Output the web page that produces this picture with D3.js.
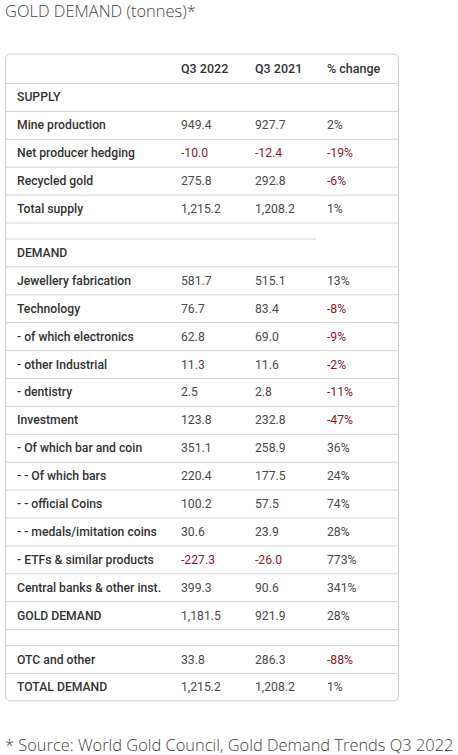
<!DOCTYPE html>
<html>
<head>
<meta charset="utf-8">
<script src="https://cdn.jsdelivr.net/npm/d3@7"></script>
<style>
  html, body { margin: 0; padding: 0; background: #fff; }
  svg { display: block; }
</style>
</head>
<body>
<svg id="chart" width="458" height="755"></svg>
<script>
// ---- data ----
const title = "GOLD DEMAND (tonnes)*";
const footnote = "* Source: World Gold Council, Gold Demand Trends Q3 2022";
const columns = ["", "Q3 2022", "Q3 2021", "% change"];
// row kinds: "section" (heading only), "blank" (spacer), "data"
const rowLabels = [
  "SUPPLY", "Mine production", "Net producer hedging", "Recycled gold", "Total supply",
  "", "DEMAND", "Jewellery fabrication", "Technology", "- of which electronics",
  "- other Industrial", "- dentistry", "Investment", "- Of which bar and coin",
  "- - Of which bars", "- - official Coins", "- - medals/imitation coins",
  "- ETFs & similar products", "Central banks & other inst.", "GOLD DEMAND",
  "", "OTC and other", "TOTAL DEMAND"
];
const rowKinds = [
  "section", "data", "data", "data", "data",
  "blank", "section", "data", "data", "data",
  "data", "data", "data", "data",
  "data", "data", "data",
  "data", "data", "data",
  "blank2", "data", "data"
];
const q3_2022 = [
  null, 949.4, -10.0, 275.8, 1215.2,
  null, null, 581.7, 76.7, 62.8,
  11.3, 2.5, 123.8, 351.1,
  220.4, 100.2, 30.6,
  -227.3, 399.3, 1181.5,
  null, 33.8, 1215.2
];
const q3_2021 = [
  null, 927.7, -12.4, 292.8, 1208.2,
  null, null, 515.1, 83.4, 69.0,
  11.6, 2.8, 232.8, 258.9,
  177.5, 57.5, 23.9,
  -26.0, 90.6, 921.9,
  null, 286.3, 1208.2
];
const pctChange = [
  null, 2, -19, -6, 1,
  null, null, 13, -8, -9,
  -2, -11, -47, 36,
  24, 74, 28,
  773, 341, 28,
  null, -88, 1
];

// ---- layout ----
const svg = d3.select("#chart");
const box = { x: 5.5, y: 54, w: 393, r: 5 };
const headerH = 29, rowH = 27.9, blankH = 16;
const fontTable = "'Roboto', 'Noto Sans', sans-serif";
const fontOuter = "'Open Sans', 'Noto Sans', sans-serif";
const dark = "#333", numCol = "#4a4a4a", red = "#8b1a2a", lineCol = "#d3d3d3";
const tSize = 12.2;

const heights = rowKinds.map(k => (k === "blank" || k === "blank2") ? blankH : rowH);
const tops = [];
let acc = box.y + headerH;
heights.forEach(h => { tops.push(acc); acc += h; });
const boxBottom = acc;

const colX = d3.scaleOrdinal().domain(columns.map((c, i) => i)).range([box.x + 11.5, 181, 255, 327]);

// fit a text to a target width by adjusting font size
function fitText(sel, targetW) {
  const w = sel.node().getComputedTextLength();
  const fs = parseFloat(sel.attr("font-size"));
  sel.attr("font-size", fs * targetW / w);
}

// title
svg.append("text")
  .attr("x", 5).attr("y", 17.3)
  .attr("font-family", fontOuter).attr("font-weight", 300)
  .attr("font-size", 17).attr("fill", "#444")
  .text(title)
  .call(fitText, 191);

// table frame
svg.append("rect")
  .attr("x", box.x).attr("y", box.y)
  .attr("width", box.w).attr("height", boxBottom - box.y)
  .attr("rx", box.r).attr("ry", box.r)
  .attr("fill", "#fff").attr("stroke", "#cfcfcf").attr("stroke-width", 1);

const g = svg.append("g");
g.selectAll("text.hdr").data(columns).join("text")
  .attr("class", "hdr")
  .attr("x", (d, i) => colX(i))
  .attr("y", box.y + headerH / 2 + 4.5)
  .attr("font-family", fontTable).attr("font-weight", 500)
  .attr("font-size", tSize + 0.3).attr("fill", dark)
  .text(d => d);

const rowsIdx = d3.range(rowLabels.length);
g.selectAll("line.sep").data(rowsIdx).join("line")
  .attr("class", "sep")
  .attr("x1", box.x)
  .attr("x2", i => rowKinds[i] === "section" && rowKinds[i - 1] === "blank" ? 316 : box.x + box.w)
  .attr("y1", i => tops[i] + 0.5).attr("y2", i => tops[i] + 0.5)
  .attr("stroke", lineCol).attr("stroke-width", 1);

const fmt1 = d3.format(",.1f");
const fmtNum = v => fmt1(v).replace("\u2212", "-");
const rows = g.selectAll("g.row").data(rowsIdx).join("g")
  .attr("class", "row")
  .attr("transform", i => `translate(0,${tops[i] + heights[i] / 2 + 4.5})`);

rows.append("text")
  .attr("x", colX(0))
  .attr("font-family", fontTable).attr("font-weight", 500)
  .attr("font-size", tSize).attr("fill", dark)
  .text(i => rowLabels[i]);

const valueCols = [q3_2022, q3_2021, pctChange];
valueCols.forEach((arr, c) => {
  rows.filter(i => arr[i] !== null).append("text")
    .attr("x", colX(c + 1))
    .attr("font-family", fontTable).attr("font-weight", 400)
    .attr("font-size", tSize)
    .attr("fill", i => arr[i] < 0 ? red : numCol)
    .text(i => c === 2 ? `${arr[i]}%` : fmtNum(arr[i]));
});

// footnote
svg.append("text")
  .attr("x", 5).attr("y", 750.5)
  .attr("font-family", fontOuter).attr("font-weight", 300)
  .attr("font-size", 16).attr("fill", "#444")
  .text(footnote)
  .call(fitText, 449);
</script>
</body>
</html>
